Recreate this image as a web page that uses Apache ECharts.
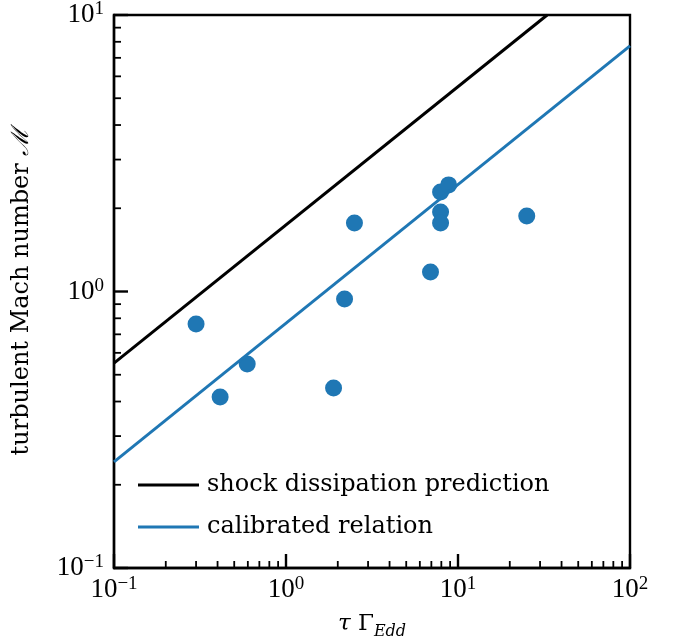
<!DOCTYPE html>
<html>
<head>
<meta charset="utf-8">
<script src="https://cdn.jsdelivr.net/npm/echarts@6/dist/echarts.min.js"></script>
<style>html,body{margin:0;padding:0;background:#fff}#c{width:675px;height:640px}</style>
</head>
<body>
<div id="c"></div>
<script>
// Data
var tauGamma = [0.30, 0.414, 0.595, 1.89, 2.19, 2.50, 6.92, 7.92, 7.92, 7.92, 8.82, 25.1];
var machNumber = [0.763, 0.415, 0.547, 0.448, 0.939, 1.77, 1.176, 2.29, 1.94, 1.77, 2.43, 1.875];
var shockX = [0.1, 33];
var shockY = [0.551, 10];
var calibX = [0.1, 100];
var calibY = [0.242, 7.73];
var xMajorTicks = [0.1, 1, 10, 100];
var yMajorTicks = [0.1, 1, 10];
var xMinorTicks = [0.2,0.3,0.4,0.5,0.6,0.7,0.8,0.9,2,3,4,5,6,7,8,9,20,30,40,50,60,70,80,90];
var yMinorTicks = [0.2,0.3,0.4,0.5,0.6,0.7,0.8,0.9,2,3,4,5,6,7,8,9];
var legendNames = ['shock dissipation prediction', 'calibrated relation'];

var FONT = 'DejaVu Serif';
var NUMFONT = 'Liberation Serif';
function zip(a, b) { return a.map(function (v, i) { return [v, b[i]]; }); }
function expLabel(v) {
  var e = Math.round(Math.log10(v));
  return '{b|10}{s|' + (e < 0 ? '\u2212' + (-e) : e) + '}';
}
var labelRich = {
  b: { fontFamily: NUMFONT, fontSize: 27, lineHeight: 27, color: '#000' },
  s: { fontFamily: NUMFONT, fontSize: 19, lineHeight: 19, color: '#000', padding: [0, 0, 11, 0] }
};
function tickSeries(name, values, isX, len, width) {
  return {
    name: name, type: 'custom', silent: true, clip: false, z: 5,
    data: values.map(function (v) { return isX ? [v, 0.1] : [0.1, v]; }),
    renderItem: function (params, api) {
      var p = api.coord([api.value(0), api.value(1)]);
      var shape = isX
        ? { x1: p[0], y1: p[1], x2: p[0], y2: p[1] - len }
        : { x1: p[0], y1: p[1], x2: p[0] + len, y2: p[1] };
      return { type: 'line', shape: shape, style: { stroke: '#000', lineWidth: width } };
    }
  };
}

var chart = echarts.init(document.getElementById('c'));
chart.setOption({
  animation: false,
  grid: { left: 114, right: 45, top: 15, bottom: 72, show: true, borderColor: '#000', borderWidth: 2.4, containLabel: false, outerBoundsMode: 'none' },
  legend: {
    data: legendNames,
    orient: 'vertical',
    left: 138, top: 473, padding: 0,
    itemWidth: 61, itemHeight: 3, itemGap: 18,
    icon: 'rect',
    textStyle: { fontFamily: FONT, fontSize: 24, color: '#000', lineHeight: 24, padding: [0, 0, 0, 3] }
  },
  xAxis: {
    type: 'log', logBase: 10, min: 0.1, max: 100,
    axisLine: { show: true, lineStyle: { color: '#000', width: 2.4 } },
    axisTick: { show: false },
    splitLine: { show: false },
    axisLabel: { margin: 8, formatter: expLabel, rich: labelRich },
    name: '{i|\u03C4} \u0393{sub|Edd}',
    nameLocation: 'middle', nameGap: 40,
    nameTextStyle: {
      fontFamily: FONT, fontSize: 23, lineHeight: 23, color: '#000',
      rich: {
        i: { fontFamily: FONT, fontSize: 23, lineHeight: 23, fontStyle: 'italic', color: '#000' },
        sub: { fontFamily: FONT, fontSize: 16, lineHeight: 16, fontStyle: 'italic', color: '#000', padding: [14, 0, 0, 0] }
      }
    }
  },
  yAxis: {
    type: 'log', logBase: 10, min: 0.1, max: 10,
    axisLine: { show: true, lineStyle: { color: '#000', width: 2.4 } },
    axisTick: { show: false },
    splitLine: { show: false },
    axisLabel: { margin: 10, formatter: expLabel, rich: labelRich },
    name: 'turbulent Mach number {m|\u2133}',
    nameLocation: 'middle', nameGap: 80, nameRotate: 90,
    nameTextStyle: {
      fontFamily: FONT, fontSize: 24, color: '#000',
      rich: { m: { fontFamily: 'DejaVu Serif', fontSize: 24, fontStyle: 'italic', color: '#000' } }
    }
  },
  series: [
    {
      name: legendNames[0], type: 'line', data: zip(shockX, shockY),
      showSymbol: false, symbol: 'none', color: '#000',
      lineStyle: { color: '#000', width: 3 }, clip: true
    },
    {
      name: legendNames[1], type: 'line', data: zip(calibX, calibY),
      showSymbol: false, symbol: 'none', color: '#1f77b4',
      lineStyle: { color: '#1f77b4', width: 3 }, clip: true
    },
    {
      name: 'data', type: 'scatter', data: zip(tauGamma, machNumber),
      symbol: 'circle', symbolSize: 17, itemStyle: { color: '#1f77b4', opacity: 1 }
    },
    tickSeries('xmajor', xMajorTicks, true, 14, 2.4),
    tickSeries('ymajor', yMajorTicks, false, 14, 2.4),
    tickSeries('xminor', xMinorTicks, true, 7, 1.8),
    tickSeries('yminor', yMinorTicks, false, 7, 1.8)
  ]
});
</script>
</body>
</html>
